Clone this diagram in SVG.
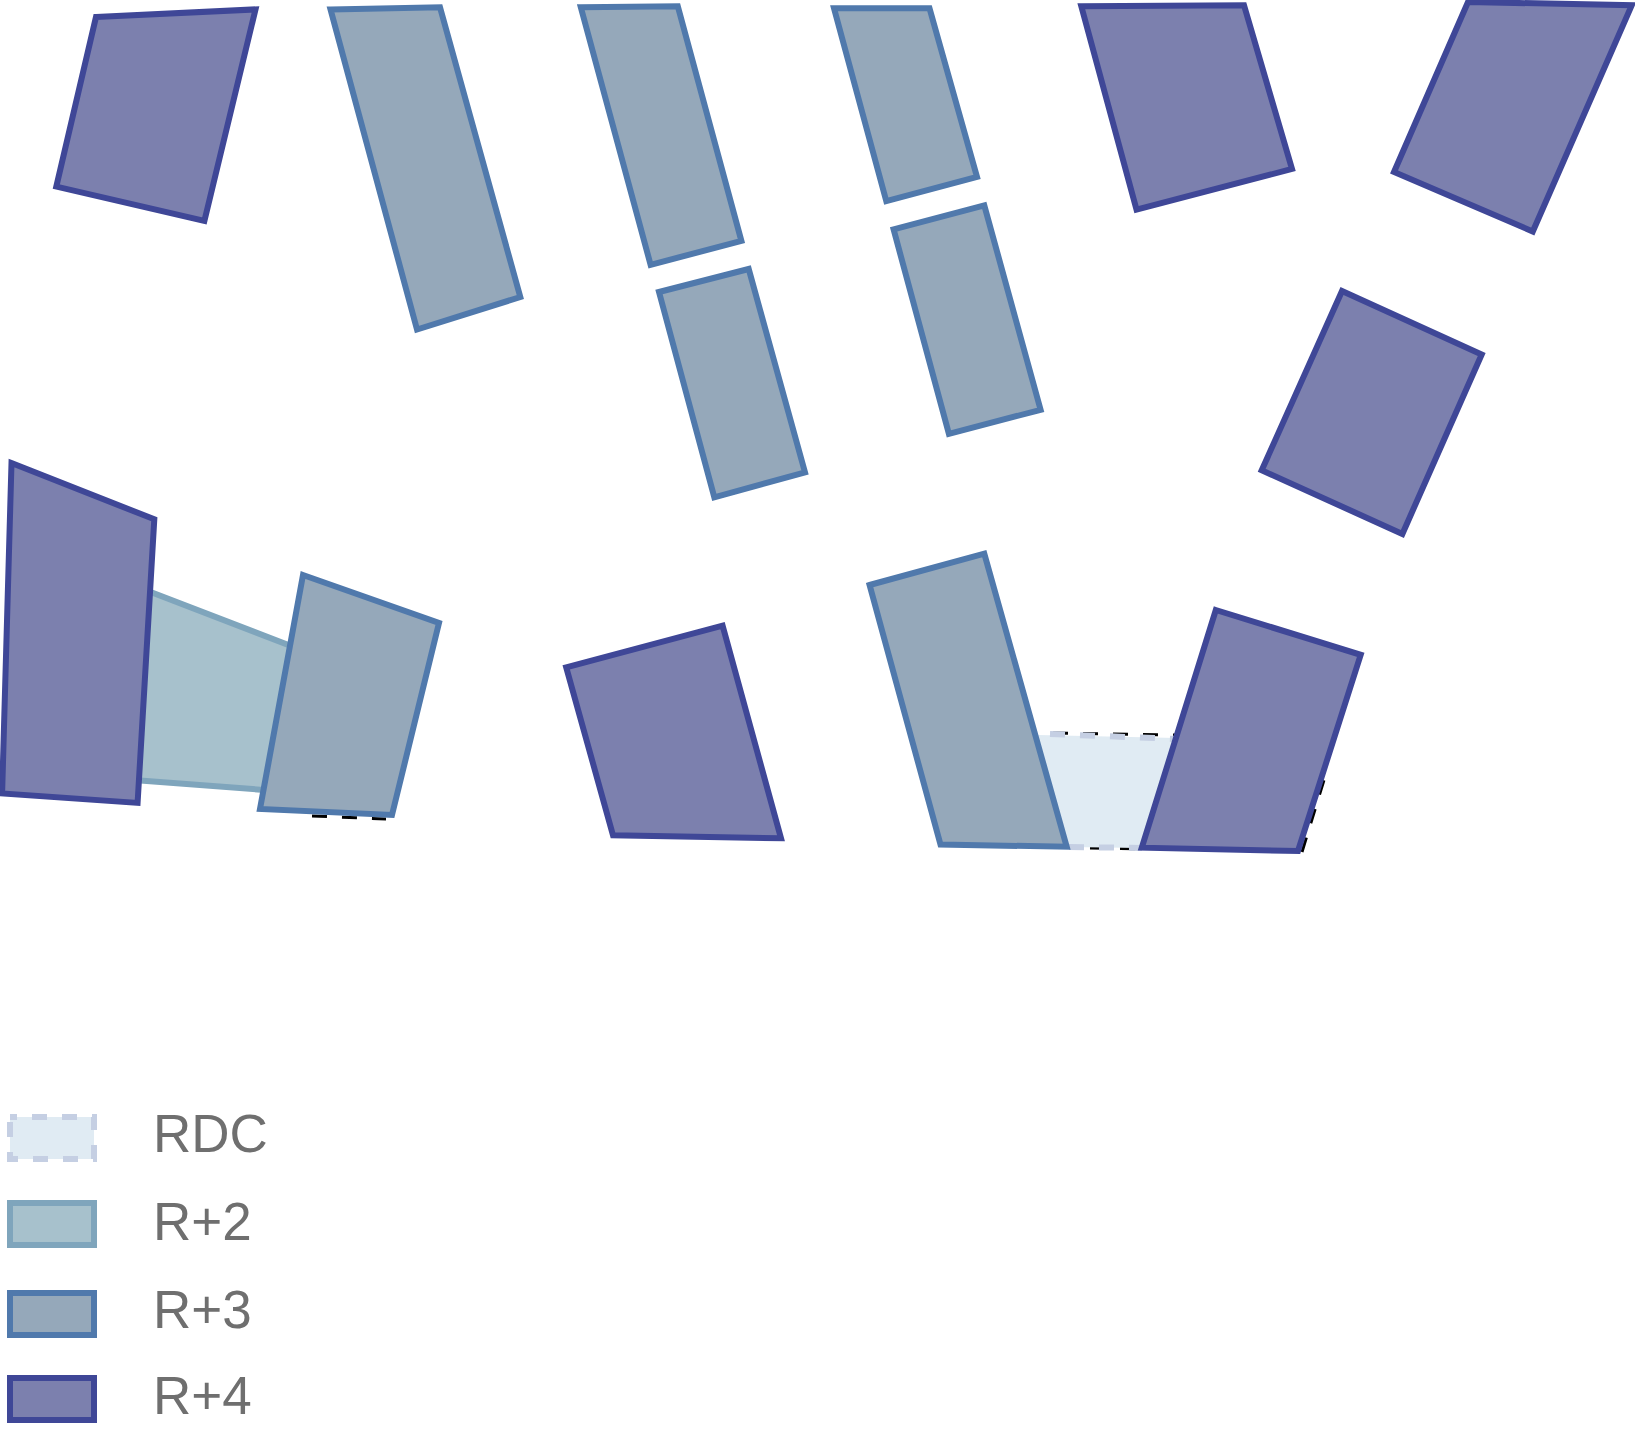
<svg xmlns="http://www.w3.org/2000/svg" width="1635" height="1440" viewBox="0 0 1635 1440">
<style>
.r4{fill:#7c80ae;stroke:#3f4797;stroke-width:6;stroke-linejoin:miter}
.r3{fill:#95a8ba;stroke:#5079ac;stroke-width:6;stroke-linejoin:miter}
.r2{fill:#a7c1cc;stroke:#7fa5bc;stroke-width:6}
.rdc{fill:#e0ebf3;stroke:none}
.dl{fill:none;stroke:#c5cfe3;stroke-width:6;stroke-dasharray:15 15}
.db{fill:none;stroke:#000;stroke-width:3;stroke-dasharray:15 15}
text{font-family:"Liberation Sans",Arial,sans-serif;font-size:53px;fill:#6f6f6f}
</style>
<rect width="1635" height="1440" fill="#fff"/>
<g id="ground-dashes">
<path class="db" d="M1053 733L1178 735"/>
<path class="db" d="M1090 848L1145 849"/>
<path class="db" d="M1302 852L1324 780"/>
<path class="db" d="M312 816L386 819"/>
</g>
<g id="rdc-block">
<polygon class="rdc" points="1038,735 1177,738 1142,848 1068,847"/>
<path class="dl" d="M1050 734L1178 739"/>
<path class="dl" d="M1069 847L1142 848"/>
</g>
<g id="r2-block">
<polygon class="r2" points="135,586 330,661 330,795 120,779"/>
</g>
<polygon id="b1" class="r4" points="96,17 255.5,9.4 204.4,221 56.3,186.6"/>
<polygon id="b2" class="r3" points="330.5,9.4 440,7.3 520.3,297 417,329.5"/>
<polygon id="b3" class="r3" points="580.8,7.3 677.8,6.3 741.4,240.9 650.6,264.8"/>
<polygon id="b4" class="r3" points="659,292 748.7,269 805,472.3 714.3,497.4"/>
<polygon id="b5" class="r3" points="834,8.3 929.5,8.3 977,177 886.3,201.2"/>
<polygon id="b6" class="r3" points="893.6,229.4 984.3,205.4 1040.6,409.8 948.9,433.8"/>
<polygon id="b7" class="r4" points="1081.3,6.3 1244,5.2 1292,169 1136.5,209.6"/>
<polygon id="b8" class="r4" points="1468,2 1631.8,5.2 1532.8,231.5 1394,172"/>
<polygon id="b9" class="r4" points="1342,291 1481.7,354.5 1402.4,533.9 1261.7,470.3"/>
<polygon id="b10" class="r4" points="11.5,463 154.3,519.3 137.6,802.9 2.1,793.5"/>
<polygon id="b12" class="r3" points="303,575 439,623 392,815 260,809"/>
<polygon id="b13" class="r4" points="566.2,667.3 722.6,625.6 781,838.3 613,835.2"/>
<polygon id="b14" class="r3" points="869.6,585 984.3,553.7 1066.7,846.7 940.5,844.6"/>
<polygon id="b16" class="r4" points="1215.8,610 1360.7,654.8 1298,851 1141.8,847.7"/>
<g id="legend-rdc">
<rect class="rdc" x="10" y="1117" width="84" height="42"/>
<rect class="dl" x="10" y="1117" width="84" height="42" stroke-dashoffset="8"/>
<text x="153" y="1152">RDC</text>
</g>
<g id="legend-r2">
<rect class="r2" x="10" y="1203" width="84" height="42"/>
<text x="153" y="1240">R+2</text>
</g>
<g id="legend-r3">
<rect class="r3" x="10" y="1293" width="84" height="42"/>
<text x="153" y="1328">R+3</text>
</g>
<g id="legend-r4">
<rect class="r4" x="10" y="1378" width="84" height="42"/>
<text x="153" y="1414">R+4</text>
</g>
</svg>
